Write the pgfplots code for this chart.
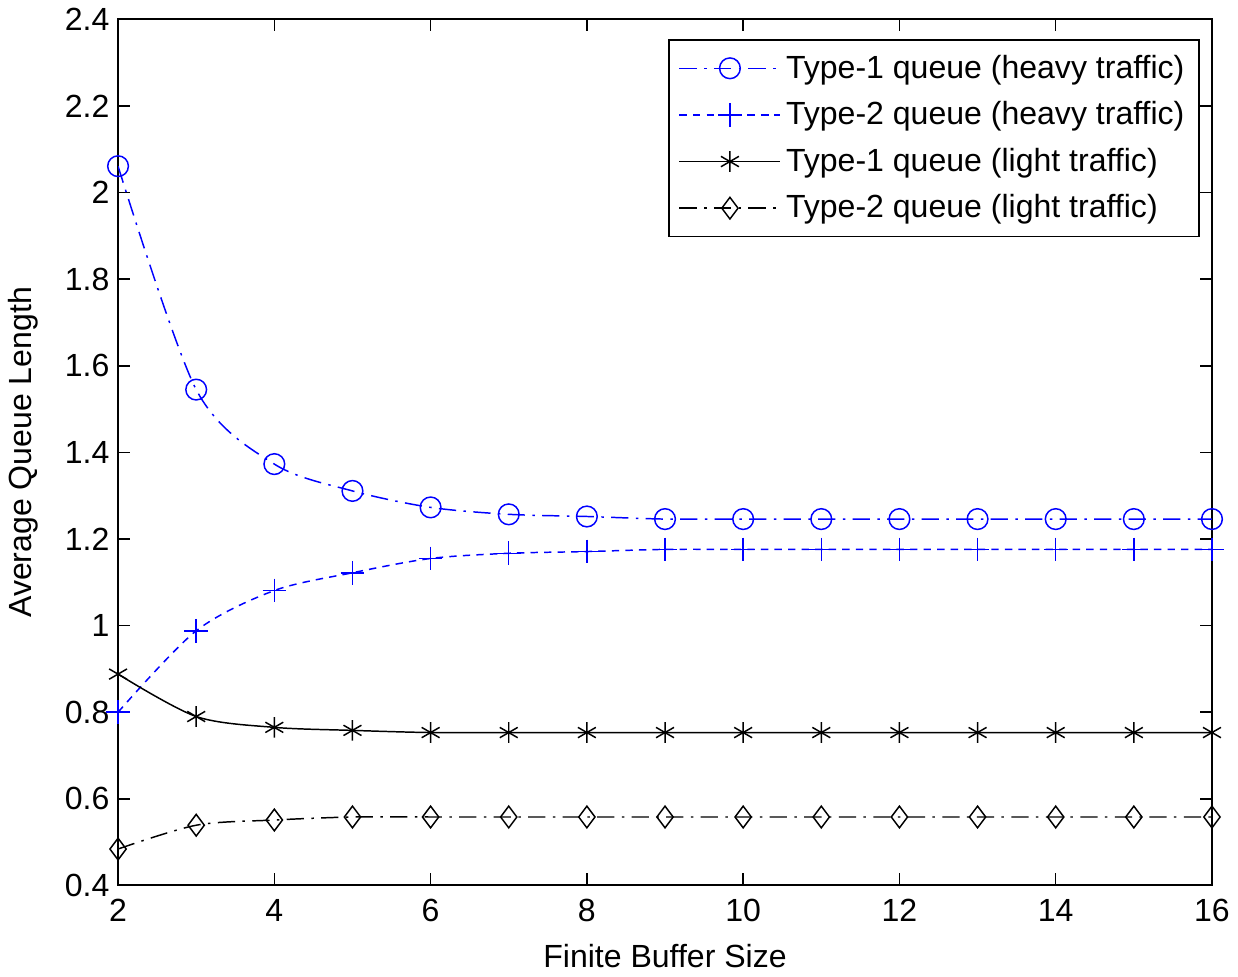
\documentclass[border=0pt]{standalone}
\usepackage{fontspec}
\setmainfont{Liberation Sans}
\usepackage{pgfplots}
\pgfplotsset{compat=1.18}

\definecolor{mblue}{RGB}{0,0,255}

\begin{document}
\begin{tikzpicture}
\begin{axis}[
    scale only axis,
    width=15.6cm,
    height=12.35cm,
    xmin=2, xmax=16,
    ymin=0.4, ymax=2.4,
    xtick={2,4,...,16},
    ytick={0.4,0.6,...,2.4},
    tick align=inside,
    major tick length=0.17cm,
    axis line style={line width=0.8pt},
    every tick/.style={black, line width=0.6pt},
    /pgf/number format/assume math mode=true,
    tick label style={font=\fontsize{13}{15}\selectfont},
    xticklabel style={yshift=-2pt},
    label style={font=\fontsize{13}{15}\selectfont},
    xlabel={Finite Buffer Size},
    ylabel={Average Queue Length},
    xlabel style={yshift=-0.08cm},
    ylabel style={yshift=0.14cm},
    legend style={
        at={(0.989,0.977)}, anchor=north east,
        draw=black, line width=0.6pt,
        font=\fontsize{13}{15.5}\selectfont,
        row sep=4pt, inner sep=4pt,
        cells={anchor=west},
    },
    legend image code/.code={
        \draw[mark repeat=2,mark phase=2] plot coordinates {(0cm,0cm) (0.72cm,0cm) (1.44cm,0cm)};
    },
]
\addplot[mblue, line width=0.6pt, dash pattern=on 7pt off 3pt on 1pt off 3pt,
    smooth, mark=o, mark size=4.2pt, mark options={solid}] coordinates {
    (2,2.061) (3,1.545) (4,1.373) (5,1.311) (6,1.273) (7,1.257) (8,1.252)
    (9,1.246) (10,1.246) (11,1.246) (12,1.246) (13,1.246) (14,1.246) (15,1.246) (16,1.246)
};
\addlegendentry{Type-1 queue (heavy traffic)}
\addplot[mblue, line width=0.6pt, dash pattern=on 3pt off 2.5pt,
    smooth, mark=+, mark size=4.8pt, mark options={solid}] coordinates {
    (2,0.800) (3,0.988) (4,1.081) (5,1.122) (6,1.155) (7,1.167) (8,1.171)
    (9,1.176) (10,1.176) (11,1.176) (12,1.176) (13,1.176) (14,1.176) (15,1.176) (16,1.176)
};
\addlegendentry{Type-2 queue (heavy traffic)}
\addplot[black, line width=0.6pt, solid,
    smooth, mark=asterisk, mark size=4.2pt] coordinates {
    (2,0.888) (3,0.790) (4,0.765) (5,0.758) (6,0.753) (7,0.753) (8,0.753)
    (9,0.753) (10,0.753) (11,0.753) (12,0.753) (13,0.753) (14,0.753) (15,0.753) (16,0.753)
};
\addlegendentry{Type-1 queue (light traffic)}
\addplot[black, line width=0.6pt, dash pattern=on 7pt off 3pt on 1pt off 3pt,
    smooth, mark=diamond, mark size=4.4pt, mark options={solid}] coordinates {
    (2,0.484) (3,0.539) (4,0.551) (5,0.558) (6,0.558) (7,0.558) (8,0.558)
    (9,0.558) (10,0.558) (11,0.558) (12,0.558) (13,0.558) (14,0.558) (15,0.558) (16,0.558)
};
\addlegendentry{Type-2 queue (light traffic)}
\end{axis}
\end{tikzpicture}
\end{document}
